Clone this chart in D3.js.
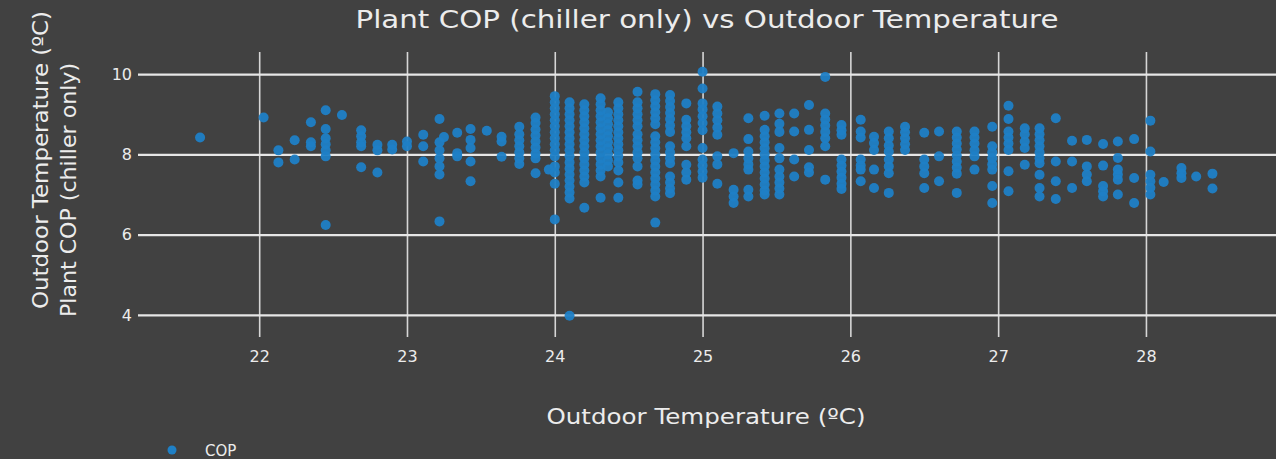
<!DOCTYPE html>
<html>
<head>
<meta charset="utf-8">
<script src="https://cdn.jsdelivr.net/npm/d3@7"></script>
<style>
html,body{margin:0;padding:0;background:#414141;overflow:hidden;}
svg{display:block;}
</style>
</head>
<body>
<svg id="chart" width="1276" height="459"></svg>
<script>
const chartTitle = "Plant COP (chiller only) vs Outdoor Temperature";
const xTitle = "Outdoor Temperature (ºC)";
const yTitleLines = ["Outdoor Temperature (ºC)", "Plant COP (chiller only)"];
const seriesName = "COP";
const xTicks = [22, 23, 24, 25, 26, 27, 28];
const yTicks = [4, 6, 8, 10];

// Outdoor temperature columns and the COP values observed at each
const tempColumns = [21.6, 22.03, 22.13, 22.24, 22.35, 22.45, 22.56, 22.69, 22.8, 22.9,
  23.0, 23.11, 23.22, 23.25, 23.34, 23.43, 23.54, 23.64, 23.76, 23.87, 23.96,
  24.0, 24.1, 24.2, 24.31, 24.36, 24.43, 24.56, 24.68, 24.78, 24.89,
  25.0, 25.1, 25.21, 25.31, 25.42, 25.52, 25.62, 25.72, 25.83, 25.94,
  26.07, 26.16, 26.26, 26.37, 26.5, 26.6, 26.72, 26.84, 26.96,
  27.07, 27.18, 27.28, 27.39, 27.5, 27.6, 27.71, 27.81, 27.92,
  28.03, 28.12, 28.24, 28.34, 28.45];
const copByColumn = [
  [8.42],
  [8.92],
  [8.1, 7.8],
  [8.35, 7.87],
  [8.8, 8.3, 8.2],
  [9.1, 8.63, 8.4, 8.25, 8.1, 7.95, 6.24],
  [8.98],
  [8.6, 8.45, 8.3, 8.2, 7.68],
  [8.24, 8.1, 7.55],
  [8.24, 8.12],
  [8.32, 8.2],
  [8.49, 8.2, 7.82],
  [8.88, 8.3, 8.1, 7.9, 7.7, 7.5, 6.33],
  [8.43],
  [8.54, 8.03, 7.95],
  [8.63, 8.36, 8.16, 7.82, 7.33],
  [8.59],
  [8.44, 8.32, 7.94],
  [8.69, 8.5, 8.35, 8.2, 8.05, 7.9, 7.76],
  [8.92, 8.78, 8.62, 8.47, 8.32, 8.17, 8.02, 7.9, 7.53],
  [7.62],
  [9.45, 9.3, 9.15, 9.0, 8.85, 8.7, 8.55, 8.4, 8.25, 8.1, 7.95, 7.7, 7.55, 7.27, 6.38],
  [9.3, 9.15, 9.0, 8.85, 8.7, 8.55, 8.4, 8.25, 8.1, 7.95, 7.8, 7.65, 7.5, 7.35, 7.2, 7.05, 6.9, 3.98],
  [9.25, 9.1, 8.95, 8.8, 8.65, 8.5, 8.35, 8.2, 8.05, 7.9, 7.75, 7.6, 7.45, 7.3, 6.67],
  [9.4, 9.25, 9.1, 8.95, 8.8, 8.65, 8.5, 8.35, 8.2, 8.05, 7.9, 7.75, 7.6, 7.45, 6.92],
  [9.05, 8.9, 8.75, 8.6, 8.45, 8.3, 8.15, 8.0, 7.85, 7.7],
  [9.3, 9.15, 9.0, 8.85, 8.7, 8.55, 8.4, 8.25, 8.1, 7.95, 7.8, 7.6, 7.3, 6.92],
  [9.56, 9.3, 9.15, 9.0, 8.85, 8.7, 8.5, 8.35, 8.2, 8.05, 7.9, 7.7, 7.35, 7.25],
  [9.5, 9.35, 9.2, 9.05, 8.9, 8.75, 8.45, 8.3, 8.15, 8.0, 7.85, 7.7, 7.55, 7.4, 7.25, 7.1, 6.95, 6.3],
  [9.48, 9.33, 9.18, 9.03, 8.88, 8.72, 8.56, 8.2, 8.05, 7.9, 7.78, 7.45, 7.3, 7.15, 7.03],
  [9.27, 8.86, 8.7, 8.55, 8.4, 8.2, 7.74, 7.55, 7.37],
  [10.06, 9.64, 9.27, 9.12, 8.95, 8.78, 8.6, 8.16, 7.87, 7.72, 7.57, 7.42],
  [9.19, 9.02, 8.85, 8.67, 8.49, 7.95, 7.75, 7.27],
  [8.03, 7.12, 6.95, 6.79],
  [8.9, 8.38, 8.07, 7.9, 7.75, 7.62, 7.12, 6.95],
  [8.96, 8.61, 8.45, 8.3, 8.15, 8.0, 7.85, 7.7, 7.55, 7.4, 7.25, 7.1, 7.0],
  [9.02, 8.76, 8.56, 8.16, 7.9, 7.62, 7.45, 7.3, 7.15, 7.0],
  [9.02, 8.57, 7.87, 7.45],
  [9.23, 8.61, 8.11, 7.68, 7.55],
  [9.93, 9.02, 8.87, 8.72, 8.56, 8.4, 8.2, 7.37],
  [8.73, 8.6, 8.49, 7.87, 7.72, 7.57, 7.42, 7.27, 7.14],
  [8.86, 8.57, 8.42, 7.87, 7.72, 7.62, 7.33],
  [8.44, 8.28, 8.11, 7.62, 7.16],
  [8.57, 8.4, 8.22, 8.07, 7.87, 7.7, 7.53, 7.04],
  [8.69, 8.55, 8.4, 8.25, 8.11],
  [8.54, 7.87, 7.7, 7.53, 7.16],
  [8.57, 7.95, 7.33],
  [8.57, 8.42, 8.27, 8.12, 7.97, 7.82, 7.67, 7.52, 7.04],
  [8.57, 8.42, 8.27, 8.1, 7.95, 7.62],
  [8.69, 8.2, 8.05, 7.9, 7.75, 7.62, 7.21, 6.79],
  [9.21, 8.88, 8.57, 8.42, 8.27, 8.11, 7.58, 7.08],
  [8.65, 8.5, 8.32, 8.16, 7.74],
  [8.65, 8.5, 8.35, 8.2, 8.05, 7.9, 7.78, 7.49, 7.16, 6.95],
  [8.9, 7.82, 7.33, 6.89],
  [8.34, 7.82, 7.16],
  [8.36, 7.7, 7.5, 7.33],
  [8.26, 7.72, 7.21, 7.08, 6.95],
  [8.32, 7.91, 7.62, 7.5, 7.37, 7.0],
  [8.38, 7.41, 6.79],
  [8.84, 8.07, 7.49, 7.33, 7.17, 7.0],
  [7.31],
  [7.66, 7.53, 7.41],
  [7.45],
  [7.52, 7.15]
];

const points = [];
tempColumns.forEach((t, i) => copByColumn[i].forEach(c => points.push({t, c})));

const W = 1276, H = 459;
const plot = {left: 138, right: 1276, top: 52, bottom: 337};
const x = d3.scaleLinear().domain([21.18, 28.88]).range([plot.left, plot.right]);
const y = d3.scaleLinear().domain([3.45, 10.55]).range([plot.bottom, plot.top]);

const svg = d3.select("#chart");
svg.append("rect").attr("width", W).attr("height", H).attr("fill", "#414141");

const font = "'DejaVu Sans', Verdana, sans-serif";
const textColor = "#ececec";

// vertical gridlines via x axis
const xAxis = d3.axisBottom(x).tickValues(xTicks).tickSize(-(plot.bottom - plot.top)).tickPadding(14).tickFormat(d3.format("d"));
const gx = svg.append("g").attr("transform", `translate(0,${plot.bottom})`).call(xAxis);
gx.select(".domain").remove();
gx.selectAll(".tick line").attr("stroke", "#d6d6d6").attr("stroke-width", 1.6);
gx.selectAll(".tick text").attr("fill", textColor).attr("font-family", font).attr("font-size", 16);

// horizontal gridlines via y axis
const yAxis = d3.axisLeft(y).tickValues(yTicks).tickSize(-(plot.right - plot.left)).tickPadding(6).tickFormat(d3.format("d"));
const gy = svg.append("g").attr("transform", `translate(${plot.left},0)`).call(yAxis);
gy.select(".domain").remove();
gy.selectAll(".tick line").attr("stroke", "#e6e6e6").attr("stroke-width", 2.2);
gy.selectAll(".tick text").attr("fill", textColor).attr("font-family", font).attr("font-size", 16);

// points
svg.append("g").selectAll("circle").data(points).join("circle")
  .attr("cx", d => x(d.t)).attr("cy", d => y(d.c)).attr("r", 5)
  .attr("fill", "#1f80c6").attr("fill-opacity", 0.95);

// title
svg.append("text").attr("x", 707).attr("y", 28).attr("text-anchor", "middle")
  .attr("fill", textColor).attr("font-family", font).attr("font-size", 25)
  .attr("textLength", 703).attr("lengthAdjust", "spacingAndGlyphs").text(chartTitle);

// x axis title
svg.append("text").attr("x", 706).attr("y", 424).attr("text-anchor", "middle")
  .attr("fill", textColor).attr("font-family", font).attr("font-size", 21)
  .attr("textLength", 319).attr("lengthAdjust", "spacingAndGlyphs").text(xTitle);

// y axis title (two lines)
const yT = svg.append("g");
yT.append("text").attr("transform", "translate(48,309) rotate(-90)").attr("text-anchor", "start")
  .attr("fill", textColor).attr("font-family", font).attr("font-size", 22)
  .attr("textLength", 298).attr("lengthAdjust", "spacingAndGlyphs").text(yTitleLines[0]);
yT.append("text").attr("transform", "translate(76,317) rotate(-90)").attr("text-anchor", "start")
  .attr("fill", textColor).attr("font-family", font).attr("font-size", 21)
  .attr("textLength", 254).attr("lengthAdjust", "spacingAndGlyphs").text(yTitleLines[1]);

// legend
const lg = svg.append("g");
lg.append("circle").attr("cx", 172).attr("cy", 450).attr("r", 4.5).attr("fill", "#1f80c6");
lg.append("text").attr("x", 205).attr("y", 456).attr("fill", textColor).attr("font-family", font)
  .attr("font-size", 15).text(seriesName);
</script>
</body>
</html>
